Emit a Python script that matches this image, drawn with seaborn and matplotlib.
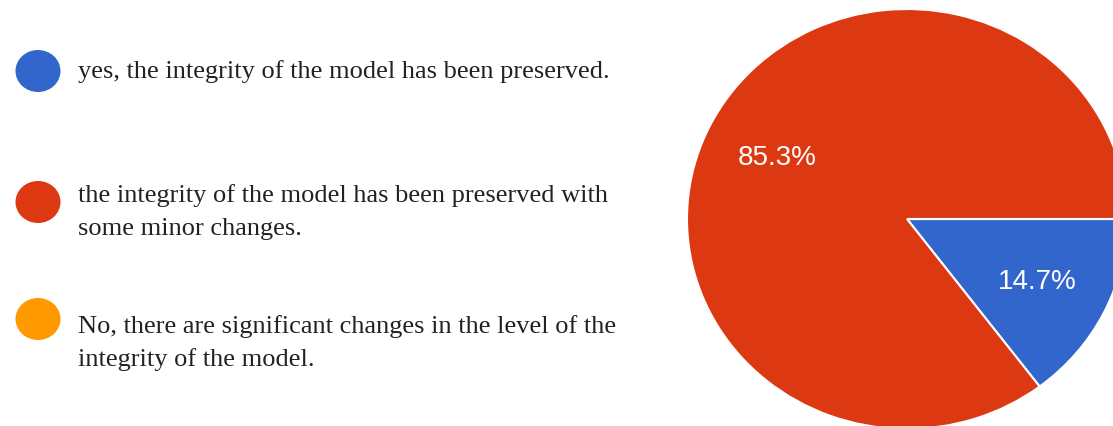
import matplotlib
matplotlib.use("Agg")
import matplotlib.pyplot as plt
from matplotlib.patches import Ellipse
import seaborn as sns

# Survey answers and their shares (percent)
answers = [
    "yes, the integrity of the model has been preserved.",
    "the integrity of the model has been preserved with\nsome minor changes.",
    "No, there are significant changes in the level of the\nintegrity of the model.",
]
shares = [14.7, 85.3, 0.0]
colors = ["#3366CC", "#DC3912", "#FF9900"]

sns.set_theme(style="white")

W, H = 1113, 427
fig = plt.figure(figsize=(W / 100, H / 100), dpi=100)
fig.patch.set_facecolor("white")

# Pie axes: centre at (907, 220) px, radii 220 x 210 px
cx, cy, rx, ry = 907, 220, 220, 210
pie_ax = fig.add_axes([(cx - rx) / W, (H - cy - ry) / H, 2 * rx / W, 2 * ry / H])


def pct_label(p):
    return f"{p:.1f}%" if p > 0.05 else ""


wedges, _, autotexts = pie_ax.pie(
    shares,
    colors=colors,
    startangle=0,
    counterclock=False,
    autopct=pct_label,
    pctdistance=0.66,
    wedgeprops=dict(edgecolor="white", linewidth=1.5),
    textprops=dict(color="white", fontsize=20, family="Liberation Sans"),
)
pie_ax.set_aspect("auto")
pie_ax.set_xlim(-1, 1)
pie_ax.set_ylim(-1, 1)
pie_ax.axis("off")

# Legend drawn in pixel coordinates on the left
leg_ax = fig.add_axes([0, 0, 1, 1])
leg_ax.set_xlim(0, W)
leg_ax.set_ylim(H, 0)
leg_ax.axis("off")

marker_y = [72, 203, 320]
text_y = [72, 212, 343]
for label, col, my, ty in zip(answers, colors, marker_y, text_y):
    leg_ax.add_patch(Ellipse((38, my), 45, 42, facecolor=col, edgecolor="none"))
    leg_ax.text(78, ty, label, ha="left", va="center", fontsize=19,
                family="Liberation Serif", color="#222222", linespacing=1.6)

fig.savefig("out.png", dpi=100, facecolor="white")
